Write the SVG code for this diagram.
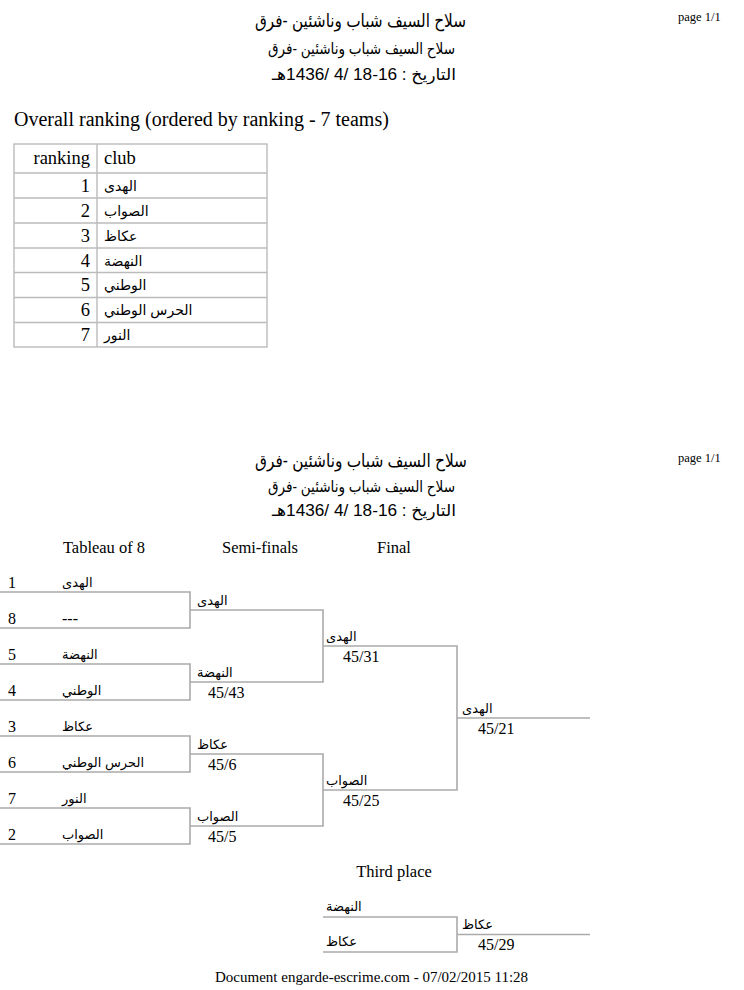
<svg xmlns="http://www.w3.org/2000/svg" width="744" height="990" viewBox="0 0 744 990">
<style>
.t{font-family:"Liberation Serif","DejaVu Sans",serif;fill:#000}
.a{font-family:"Liberation Sans","DejaVu Sans",sans-serif;fill:#000}
.pg{font-size:12.5px}
.h1{font-size:18px}
.h2{font-size:16px}
.tb{font-size:18.5px}
.ar{font-size:14px}
.br{font-size:13px}
.sc{font-size:16px}
.col{font-size:16.5px}
.ln{stroke:#aaa;stroke-width:1.6;fill:none}
.grid{stroke:#bbb;stroke-width:1.4;fill:none}
</style>
<rect width="744" height="990" fill="#fff"/>

<g id="page1-header">
<text class="t pg" x="678" y="21">page 1/1</text>
<text class="a h1" x="360.5" y="27" text-anchor="middle" direction="rtl" textLength="211" lengthAdjust="spacingAndGlyphs">سلاح السيف شباب وناشئين -فرق</text>
<text class="a h2" x="361.5" y="54" text-anchor="middle" direction="rtl" textLength="187" lengthAdjust="spacingAndGlyphs">سلاح السيف شباب وناشئين -فرق</text>
<text class="a h2" x="364" y="80" text-anchor="middle" direction="rtl" textLength="184" lengthAdjust="spacingAndGlyphs">التاريخ : 16-18 /4 /1436هـ</text>
</g>

<g id="ranking-table">
<text class="t" font-size="20" x="14" y="126">Overall ranking (ordered by ranking - 7 teams)</text>
<rect class="grid" x="14" y="144" width="253" height="203"/>
<line class="grid" x1="97" y1="144" x2="97" y2="347"/>
<line class="grid" x1="14" y1="173" x2="267" y2="173"/>
<line class="grid" x1="14" y1="198" x2="267" y2="198"/>
<line class="grid" x1="14" y1="223" x2="267" y2="223"/>
<line class="grid" x1="14" y1="248" x2="267" y2="248"/>
<line class="grid" x1="14" y1="272.5" x2="267" y2="272.5"/>
<line class="grid" x1="14" y1="297.5" x2="267" y2="297.5"/>
<line class="grid" x1="14" y1="322.5" x2="267" y2="322.5"/>
<text class="t tb" x="90" y="164" text-anchor="end">ranking</text>
<text class="t tb" x="104" y="164">club</text>
<text class="t tb" x="90" y="192" text-anchor="end">1</text>
<text class="t tb" x="90" y="217" text-anchor="end">2</text>
<text class="t tb" x="90" y="242" text-anchor="end">3</text>
<text class="t tb" x="90" y="267" text-anchor="end">4</text>
<text class="t tb" x="90" y="291" text-anchor="end">5</text>
<text class="t tb" x="90" y="316" text-anchor="end">6</text>
<text class="t tb" x="90" y="341" text-anchor="end">7</text>
<text class="a ar" x="104" y="191">الهدى</text>
<text class="a ar" x="104" y="216">الصواب</text>
<text class="a ar" x="104" y="241">عكاظ</text>
<text class="a ar" x="104" y="266">النهضة</text>
<text class="a ar" x="104" y="290">الوطني</text>
<text class="a ar" x="104" y="315">الحرس الوطني</text>
<text class="a ar" x="104" y="340">النور</text>
</g>

<g id="page2-header">
<text class="t pg" x="678" y="462">page 1/1</text>
<text class="a h1" x="361" y="467" text-anchor="middle" direction="rtl" textLength="212" lengthAdjust="spacingAndGlyphs">سلاح السيف شباب وناشئين -فرق</text>
<text class="a h2" x="361.5" y="492" text-anchor="middle" direction="rtl" textLength="187" lengthAdjust="spacingAndGlyphs">سلاح السيف شباب وناشئين -فرق</text>
<text class="a h2" x="364" y="516" text-anchor="middle" direction="rtl" textLength="184" lengthAdjust="spacingAndGlyphs">التاريخ : 16-18 /4 /1436هـ</text>
<text class="t col" x="104" y="553" text-anchor="middle">Tableau of 8</text>
<text class="t col" x="260" y="553" text-anchor="middle">Semi-finals</text>
<text class="t col" x="394" y="553" text-anchor="middle">Final</text>
</g>

<g id="connectors">
<path class="ln" d="M0 592H190V628H0"/>
<path class="ln" d="M0 664H190V700H0"/>
<path class="ln" d="M0 736H190V772H0"/>
<path class="ln" d="M0 808H190V844H0"/>
<path class="ln" d="M190 610H323V682H190"/>
<path class="ln" d="M190 754H323V826H190"/>
<path class="ln" d="M323 646H457V790H323"/>
<path class="ln" d="M457 718H590"/>
<path class="ln" d="M323 917H457V952H323"/>
<path class="ln" d="M457 934.5H590"/>
</g>

<g id="tableau-8">
<text class="t sc" x="8" y="588">1</text><text class="a br" x="62" y="587">الهدى</text>
<text class="t sc" x="8" y="624">8</text><text class="t sc" x="62" y="624">---</text>
<text class="t sc" x="8" y="660">5</text><text class="a br" x="62" y="659">النهضة</text>
<text class="t sc" x="8" y="696">4</text><text class="a br" x="62" y="695">الوطني</text>
<text class="t sc" x="8" y="732">3</text><text class="a br" x="62" y="731">عكاظ</text>
<text class="t sc" x="8" y="768">6</text><text class="a br" x="62" y="767">الحرس الوطني</text>
<text class="t sc" x="8" y="804">7</text><text class="a br" x="62" y="803">النور</text>
<text class="t sc" x="8" y="840">2</text><text class="a br" x="62" y="839">الصواب</text>
</g>

<g id="semi-finals">
<text class="a br" x="197" y="605">الهدى</text>
<text class="a br" x="197" y="677">النهضة</text>
<text class="t sc" x="208" y="698">45/43</text>
<text class="a br" x="197" y="749">عكاظ</text>
<text class="t sc" x="208" y="770">45/6</text>
<text class="a br" x="197" y="821">الصواب</text>
<text class="t sc" x="208" y="842">45/5</text>
</g>

<g id="final">
<text class="a br" x="326" y="641">الهدى</text>
<text class="t sc" x="343" y="662">45/31</text>
<text class="a br" x="326" y="785">الصواب</text>
<text class="t sc" x="343" y="806">45/25</text>
<text class="a br" x="462" y="713">الهدى</text>
<text class="t sc" x="478" y="734">45/21</text>
</g>

<g id="third-place">
<text class="t col" x="394" y="877" text-anchor="middle">Third place</text>
<text class="a br" x="326" y="911">النهضة</text>
<text class="a br" x="326" y="946">عكاظ</text>
<text class="a br" x="462" y="929">عكاظ</text>
<text class="t sc" x="478" y="950">45/29</text>
</g>

<g id="footer">
<text class="t" font-size="15" x="215" y="982">Document engarde-escrime.com  - 07/02/2015 11:28</text>
</g>
</svg>
